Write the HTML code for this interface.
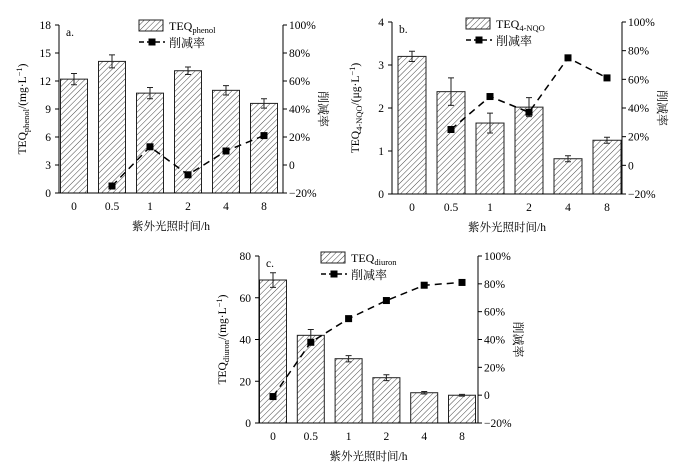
<!DOCTYPE html>
<html><head><meta charset="utf-8">
<style>
body{margin:0;background:#fff;}
svg{display:block;font-family:"Liberation Serif","Noto Serif CJK SC",serif;}
</style></head>
<body>
<svg id="fig" width="688" height="467" viewBox="0 0 688 467" xmlns="http://www.w3.org/2000/svg">
<defs>
<pattern id="hatch" patternUnits="userSpaceOnUse" width="4" height="4" patternTransform="rotate(45)">
<line x1="0" y1="0" x2="0" y2="4" stroke="#333" stroke-width="0.9"/>
</pattern>
</defs>
</svg>
<script>
const categories=["0","0.5","1","2","4","8"];
const aValues=[12.2,14.1,10.7,13.1,11.0,9.6];
const aErrors=[0.6,0.7,0.6,0.4,0.5,0.5];
const aRate=[null,-15,13,-7,10,21];
const aTicks=[0,3,6,9,12,15,18];
const bValues=[3.2,2.38,1.65,2.02,0.82,1.25];
const bErrors=[0.12,0.32,0.23,0.22,0.07,0.07];
const bRate=[null,25,48,37,75,61];
const bTicks=[0,1,2,3,4];
const cValues=[68.5,42,30.8,21.7,14.5,13.3];
const cErrors=[3.5,2.8,1.5,1.4,0.6,0.4];
const cRate=[-1,38,55,68,79,81];
const cTicks=[0,20,40,60,80];
const rateTicks=[-20,0,20,40,60,80,100];

const NS="http://www.w3.org/2000/svg";
const svg=document.getElementById('fig');
function mk(tag,attrs,parent,text){
  const e=document.createElementNS(NS,tag);
  for(const k in attrs)e.setAttribute(k,attrs[k]);
  if(text!==undefined)e.textContent=text;
  (parent||svg).appendChild(e);return e;
}
function chart(p){
  const g=mk('g',{});
  
  
  const ymax=p.ticks[p.ticks.length-1];
  const y=v=>p.bottom-(v/ymax)*(p.bottom-p.top);
  const yr=v=>p.bottom-((v+20)/120)*(p.bottom-p.top);
  const x=i=>p.x0+i*p.step;
  p.values.forEach((v,i)=>{
    const r=mk('rect',{x:x(i)-p.bw/2,y:y(v),width:p.bw,height:p.bottom-y(v),fill:'url(#hatch)',stroke:'#222','stroke-width':1},g);
    
    
    const e=p.errors[i];
    const eb=mk('path',{d:`M${x(i)} ${y(v+e)}V${y(v-e)}M${x(i)-3} ${y(v+e)}h6M${x(i)-3} ${y(v-e)}h6`,stroke:'#222','stroke-width':1,fill:'none'},g);
    
    
  });
  let d='';p.rate.forEach((v,i)=>{if(v===null)return;d+=(d?'L':'M')+x(i)+' '+yr(v);});
  const ln=mk('path',{d:d,stroke:'#000','stroke-width':1.5,fill:'none','stroke-dasharray':'7,5'},g);
  
  
  p.rate.forEach((v,i)=>{if(v===null)return;
    const m=mk('rect',{x:x(i)-3.5,y:yr(v)-3.5,width:7,height:7,fill:'#000'},g);
    
    
  });
  const ax=mk('path',{d:`M${p.left} ${p.top}V${p.bottom}H${p.right}V${p.top}`,stroke:'#000','stroke-width':1,fill:'none'},g);
  
  
  p.ticks.forEach(t=>{
    mk('line',{x1:p.left-4,x2:p.left,y1:y(t),y2:y(t),stroke:'#000'},g);
    const tl=mk('text',{x:p.left-8,y:y(t)+4,'text-anchor':'end','font-size':11.5},g,t);
    
    
  });
  rateTicks.forEach(t=>{
    mk('line',{x1:p.right,x2:p.right+4,y1:yr(t),y2:yr(t),stroke:'#000'},g);
    const tl=mk('text',{x:p.right+6,y:yr(t)+4,'font-size':11.5},g,(t<0?'\u221220':t===0?'0':t)+(t===0?'':'%'));
    
    
  });
  categories.forEach((c,i)=>{
    const tl=mk('text',{x:x(i),y:p.bottom+17,'text-anchor':'middle','font-size':11.5},g,c);
    
    
  });
  const xt=mk('text',{x:(p.left+p.right)/2,y:p.bottom+37,'text-anchor':'middle','font-size':11.5},g,'紫外光照时间/h');
  
  
  const cy=(p.top+p.bottom)/2;
  const yt=mk('text',{x:p.left-33,y:cy,'text-anchor':'middle','font-size':11.5,transform:`rotate(-90 ${p.left-33} ${cy})`},g);
  
  
  mk('tspan',{},yt,'TEQ');
  mk('tspan',{'font-size':8.5,dy:3},yt,p.sub);
  mk('tspan',{dy:-3},yt,'/('+p.unit+'·L');
  mk('tspan',{'font-size':8.5,dy:-4},yt,'−1');
  mk('tspan',{dy:4},yt,')');
  const rx=p.right+36;
  const rt=mk('text',{x:rx,y:cy,'text-anchor':'middle','font-size':12,transform:`rotate(90 ${rx} ${cy})`},g,'削减率');
  
  
  const pl=mk('text',{x:p.left+7,y:p.top+11,'font-size':11.5},g,p.id+'.');
  
  
  const lg=mk('g',{},g);
  
  
  mk('rect',{x:p.lx,y:p.ly,width:24,height:11,fill:'url(#hatch)',stroke:'#222'},lg);
  const lt=mk('text',{x:p.lx+30,y:p.ly+10,'font-size':12},lg);
  mk('tspan',{},lt,'TEQ');mk('tspan',{'font-size':8.5,dy:3},lt,p.sub);
  mk('line',{x1:p.lx,x2:p.lx+26,y1:p.ly+22,y2:p.ly+22,stroke:'#000','stroke-width':1.5,'stroke-dasharray':'5,3'},lg);
  mk('rect',{x:p.lx+9.5,y:p.ly+18.5,width:7,height:7,fill:'#000'},lg);
  mk('text',{x:p.lx+30,y:p.ly+27,'font-size':12},lg,'削减率');
}
chart({id:'a',values:aValues,errors:aErrors,rate:aRate,ticks:aTicks,sub:'phenol',unit:'mg',
  left:59,right:283,top:25,bottom:193,x0:74,step:38,bw:27,lx:139,ly:20});
chart({id:'b',values:bValues,errors:bErrors,rate:bRate,ticks:bTicks,sub:'4-NQO',unit:'μg',
  left:392,right:622,top:22,bottom:194,x0:412,step:39,bw:28,lx:466,ly:18});
chart({id:'c',values:cValues,errors:cErrors,rate:cRate,ticks:cTicks,sub:'diuron',unit:'mg',
  left:259,right:478,top:256,bottom:423,x0:273,step:37.8,bw:27,lx:321,ly:252});
</script>
</body></html>
